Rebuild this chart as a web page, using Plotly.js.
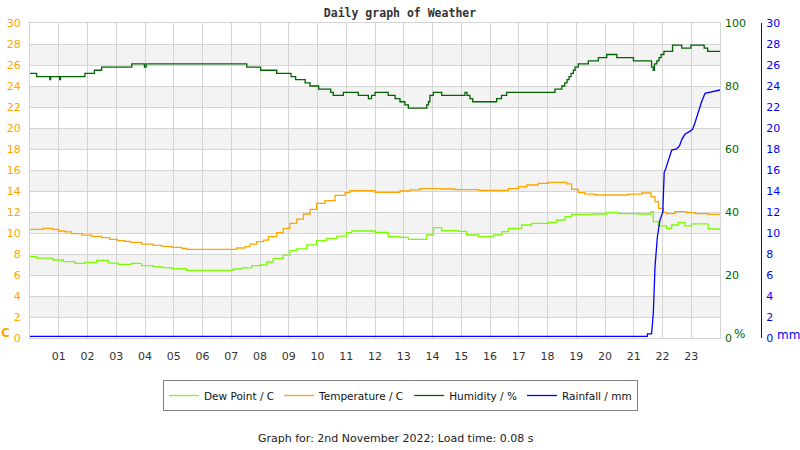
<!DOCTYPE html>
<html><head><meta charset="utf-8">
<script src="https://cdn.plot.ly/plotly-3.0.1.min.js"></script>
<style>html,body{margin:0;padding:0;background:#fff}</style>
</head><body><div id="chart" style="width:800px;height:450px"></div>
<script>
// ---------- data ----------
const hourTicks = [1,2,3,4,5,6,7,8,9,10,11,12,13,14,15,16,17,18,19,20,21,22,23];
const hourLabels = ['01','02','03','04','05','06','07','08','09','10','11','12','13','14','15','16','17','18','19','20','21','22','23'];

const humTime = [0,0.23,0.69,0.72,1.03,1.06,1.91,2.24,2.49,3.54,3.98,4.04,7.54,8.02,8.58,9.08,9.24,9.57,9.74,10.04,10.46,10.55,10.9,11.42,11.77,11.88,12.0,12.46,12.7,12.87,13.04,13.16,13.8,13.86,13.91,14.03,14.32,15.13,15.2,15.3,15.4,16.23,16.4,16.58,18.26,18.5,18.6,18.68,18.75,18.82,18.9,18.96,19.07,19.42,19.77,20.06,20.41,20.99,21.62,21.68,21.72,21.8,21.88,21.95,22.05,22.35,22.67,22.99,23.45,23.57,24];
const humVal  = [84,83,82,83,82,83,84,85,86,87,86,87,86,85,84,83,82,81,80,79,78,77,78,77,76,77,78,77,76,75,74,73,74,75,77,78,77,78,77,76,75,76,77,78,79,80,81,82,83,84,85,86,87,88,89,90,89,88,86,85,87,88,89,90,91,93,92,93,92,91,91];

const tempTime = [0,0.46,0.79,0.99,1.22,1.45,1.8,2.14,2.49,2.78,3.04,3.3,3.48,3.88,4.29,4.58,4.93,5.28,5.45,7.19,7.48,7.65,7.88,8.12,8.29,8.58,8.81,9.04,9.28,9.51,9.74,9.97,10.26,10.61,10.96,11.13,12.0,12.87,13.22,13.57,14.32,14.78,15.59,16.64,16.99,17.28,17.68,18.03,18.67,18.84,19.07,19.3,19.65,20.81,21.28,21.6,21.74,21.86,22.03,22.14,22.43,22.84,23.13,23.59,24];
const tempVal  = [10.35,10.44,10.35,10.19,10.1,9.94,9.8,9.68,9.56,9.4,9.27,9.2,9.11,8.95,8.83,8.73,8.63,8.54,8.44,8.57,8.7,8.95,9.17,9.33,9.65,10.03,10.44,10.92,11.33,11.81,12.25,12.83,13.08,13.59,13.84,14.03,13.87,14.0,14.1,14.22,14.19,14.13,14.06,14.22,14.41,14.57,14.73,14.83,14.67,14.16,13.84,13.71,13.62,13.71,13.81,13.46,12.98,12.35,11.97,11.84,12.03,11.94,11.84,11.78,11.78];

const dewTime = [0,0.23,0.81,1.16,1.57,1.91,2.32,2.72,3.07,3.54,3.88,4.29,4.58,4.93,5.45,7.07,7.36,7.71,8.0,8.23,8.46,8.81,9.04,9.28,9.62,9.97,10.32,10.67,11.01,11.19,12.0,12.46,12.87,13.16,13.8,14.03,14.32,14.9,15.19,15.59,16.12,16.41,16.64,17.1,17.45,18.03,18.32,18.61,18.84,19.54,20.06,20.46,21.16,21.6,21.68,21.86,22.14,22.32,22.55,22.78,23.01,23.59,24];
const dewVal  = [7.75,7.6,7.43,7.27,7.11,7.2,7.4,7.14,7.02,7.11,6.89,6.79,6.7,6.6,6.44,6.57,6.67,6.89,6.95,7.24,7.59,7.9,8.32,8.48,8.86,9.27,9.49,9.71,10.03,10.19,10.06,9.65,9.59,9.4,9.81,10.51,10.22,10.16,9.81,9.65,9.81,10.13,10.44,10.76,10.92,11.02,11.24,11.56,11.78,11.81,11.97,11.84,11.81,12.03,11.08,10.67,10.44,10.76,11.02,10.67,10.86,10.38,10.38];

const rainTime = [0,21.47,21.48,21.62,21.68,21.74,21.82,21.91,22.01,22.06,22.11,22.2,22.32,22.49,22.59,22.67,22.78,22.96,23.05,23.13,23.25,23.36,23.48,24];
const rainVal  = [0.15,0.15,0.4,0.4,2.35,6.8,9.6,11.2,12.0,15.8,16.1,16.8,17.9,18.0,18.3,18.9,19.4,19.7,19.9,20.5,21.55,22.5,23.3,23.62];

// ---------- layout ----------
const W = 800, H = 450, L = 30, R = 35, T = 23, B = 112;
const plotW = W - L - R;
const plotH = H - T - B;
const xEnd = 690 / plotW;
const gridC = '#d4d4d4';
const font = 'DejaVu Sans, sans-serif';
const px = v => (v - L) / plotW;
const py = v => (H - B - v) / plotH;

const bands = [];
for (let v = 2; v < 30; v += 4) {
  bands.push({type:'rect', xref:'x', yref:'y', x0:0, x1:24, y0:v, y1:v+2,
    fillcolor:'#f3f3f3', line:{width:0}, layer:'below'});
}

const traces = [
  {x: dewTime, y: dewVal, name: 'Dew Point / C', type:'scatter', mode:'lines',
   line:{color:'#7cfc00', width:1.3, shape:'hv'}, yaxis:'y'},
  {x: tempTime, y: tempVal, name: 'Temperature / C', type:'scatter', mode:'lines',
   line:{color:'#ffa500', width:1.3, shape:'hv'}, yaxis:'y'},
  {x: humTime, y: humVal, name: 'Humidity / %', type:'scatter', mode:'lines',
   line:{color:'#006400', width:1.3, shape:'hv'}, yaxis:'y2'},
  {x: rainTime, y: rainVal, name: 'Rainfall / mm', type:'scatter', mode:'lines',
   line:{color:'#0000ff', width:1.3}, yaxis:'y3'}
];

const layout = {
  width: W, height: H,
  margin: {l:L, r:R, t:T, b:B, pad:0},
  paper_bgcolor:'#ffffff', plot_bgcolor:'#ffffff',
  showlegend: true,
  title: {text:'<b>Daily graph of Weather</b>', font:{family:'DejaVu Sans Mono, monospace', size:11.5, color:'#333333'},
          xref:'container', x:0.5, xanchor:'center', yref:'container', y:1-13/H, yanchor:'middle'},
  xaxis: {domain:[0, xEnd], range:[0,24], tickmode:'array', tickvals:hourTicks, ticktext:hourLabels,
          showgrid:true, gridcolor:gridC, gridwidth:1, zeroline:false,
          showline:true, linecolor:gridC, linewidth:1, mirror:true, ticks:'',
          ticklabelstandoff:8, tickfont:{family:font, size:11, color:'#333333'}},
  yaxis: {range:[0,30], dtick:2, tick0:0, showgrid:true, gridcolor:gridC, gridwidth:1, zeroline:false,
          showline:true, linecolor:gridC, linewidth:1, mirror:true, ticks:'',
          ticklabelstandoff:6, tickfont:{family:font, size:11, color:'#ffa500'}},
  yaxis2: {overlaying:'y', side:'right', anchor:'x', range:[0,100], dtick:20, tick0:0,
           showgrid:false, zeroline:false, showline:false, ticks:'', ticklabelstandoff:4,
           tickfont:{family:font, size:11, color:'#006400'}},
  yaxis3: {overlaying:'y', side:'right', anchor:'free', position:px(761), range:[0,30], dtick:2, tick0:0,
           showgrid:false, zeroline:false, showline:true, linecolor:'#0000ff', linewidth:1, ticks:'',
           ticklabelstandoff:2, tickfont:{family:font, size:11, color:'#0000ff'}},
  shapes: bands,
  legend: {orientation:'h', xref:'paper', yref:'paper', x:px(400.5), xanchor:'center',
           y:py(380), yanchor:'top', bordercolor:'#808080', borderwidth:1,
           font:{family:font, size:10.5, color:'#111111'}, bgcolor:'#ffffff', itemwidth:30, tracegroupgap:0},
  annotations: [
    {text:'<b>C</b>', xref:'paper', yref:'paper', x:px(6), y:py(333), showarrow:false,
     xanchor:'center', yanchor:'middle', font:{family:font, size:12, color:'#ffa500'}},
    {text:'%', xref:'paper', yref:'paper', x:px(739), y:py(334), showarrow:false,
     xanchor:'center', yanchor:'middle', font:{family:font, size:12, color:'#006400'}},
    {text:'mm', xref:'paper', yref:'paper', x:px(788), y:py(335), showarrow:false,
     xanchor:'center', yanchor:'middle', font:{family:font, size:12, color:'#0000ff'}},
    {text:'Graph for: 2nd November 2022; Load time: 0.08 s', xref:'paper', yref:'paper',
     x:px(396), y:py(438), showarrow:false, xanchor:'center', yanchor:'middle',
     font:{family:font, size:11, color:'#222222'}}
  ]
};

Plotly.newPlot('chart', traces, layout, {staticPlot:true, displayModeBar:false});
</script>
</body></html>
